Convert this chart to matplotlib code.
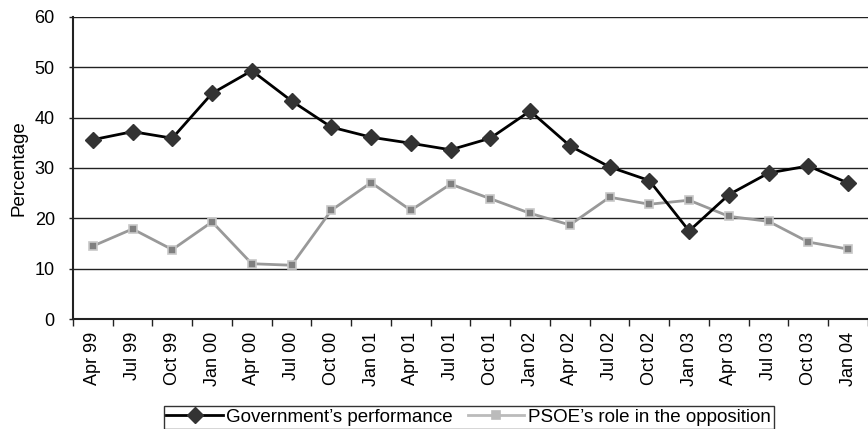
import matplotlib.pyplot as plt

periods = ["Apr 99", "Jul 99", "Oct 99", "Jan 00", "Apr 00", "Jul 00", "Oct 00",
           "Jan 01", "Apr 01", "Jul 01", "Oct 01", "Jan 02", "Apr 02", "Jul 02",
           "Oct 02", "Jan 03", "Apr 03", "Jul 03", "Oct 03", "Jan 04"]
government = [35.6, 37.2, 35.9, 44.8, 49.3, 43.3, 38.1, 36.1, 34.9, 33.6,
              35.9, 41.3, 34.4, 30.2, 27.5, 17.5, 24.7, 29.0, 30.4, 27.0]
psoe = [14.5, 17.9, 13.8, 19.3, 11.0, 10.7, 21.6, 27.1, 21.6, 26.8,
        23.9, 21.0, 18.7, 24.2, 22.8, 23.6, 20.4, 19.4, 15.3, 13.9]

plt.rcParams["font.family"] = ["Liberation Sans", "DejaVu Sans"]

fig = plt.figure(figsize=(8.68, 4.29), dpi=100)
ax = fig.add_axes([0.084, 0.256, 0.916, 0.705])

x = list(range(len(periods)))
ax.plot(x, government, color="black", linewidth=2, marker="D", markersize=8.5,
        markerfacecolor="#333333", markeredgecolor="#333333",
        label="Government\u2019s performance", zorder=3)
ax.plot(x, psoe, color="#999999", linewidth=2, marker="s", markersize=5.5,
        markerfacecolor="#808080", markeredgecolor="#c8c8c8", markeredgewidth=1.2,
        label="PSOE\u2019s role in the opposition", zorder=2)

ax.set_xlim(-0.5, len(periods) - 0.5)
ax.set_ylim(0, 60)
ax.set_yticks(range(0, 61, 10))
ax.yaxis.grid(True, color="#222222", linewidth=1)
ax.set_axisbelow(True)

ax.set_xticks(x)
ax.set_xticklabels(periods, rotation=90, fontsize=13)
ax.tick_params(axis="x", which="major", length=0, pad=9)
ax.set_xticks([i - 0.5 for i in range(len(periods) + 1)], minor=True)
ax.tick_params(axis="x", which="minor", length=5, width=1, color="#222222", direction="out")
ax.tick_params(axis="y", length=3, width=1, color="#222222", labelsize=13, pad=10)
ax.set_ylabel("Percentage", fontsize=13.5, labelpad=5)

for side in ["top", "right"]:
    ax.spines[side].set_visible(False)
for side in ["left", "bottom"]:
    ax.spines[side].set_color("#222222")
    ax.spines[side].set_linewidth(1.5)

leg = fig.legend(loc="upper center", bbox_to_anchor=(0.54, 0.054), ncol=2,
                 fontsize=13.5, frameon=True, fancybox=False, handlelength=3.0,
                 handletextpad=0.2, columnspacing=0.8, borderpad=0.15,
                 borderaxespad=0)
leg.get_frame().set_edgecolor("black")
leg.get_frame().set_linewidth(1)
# lighter square in the legend key for the opposition series
leg.get_lines()[1].set_markerfacecolor("#bbbbbb")
leg.get_lines()[1].set_markeredgecolor("#bbbbbb")
leg.get_lines()[1].set_color("#bbbbbb")

fig.savefig("out.png", dpi=100)
